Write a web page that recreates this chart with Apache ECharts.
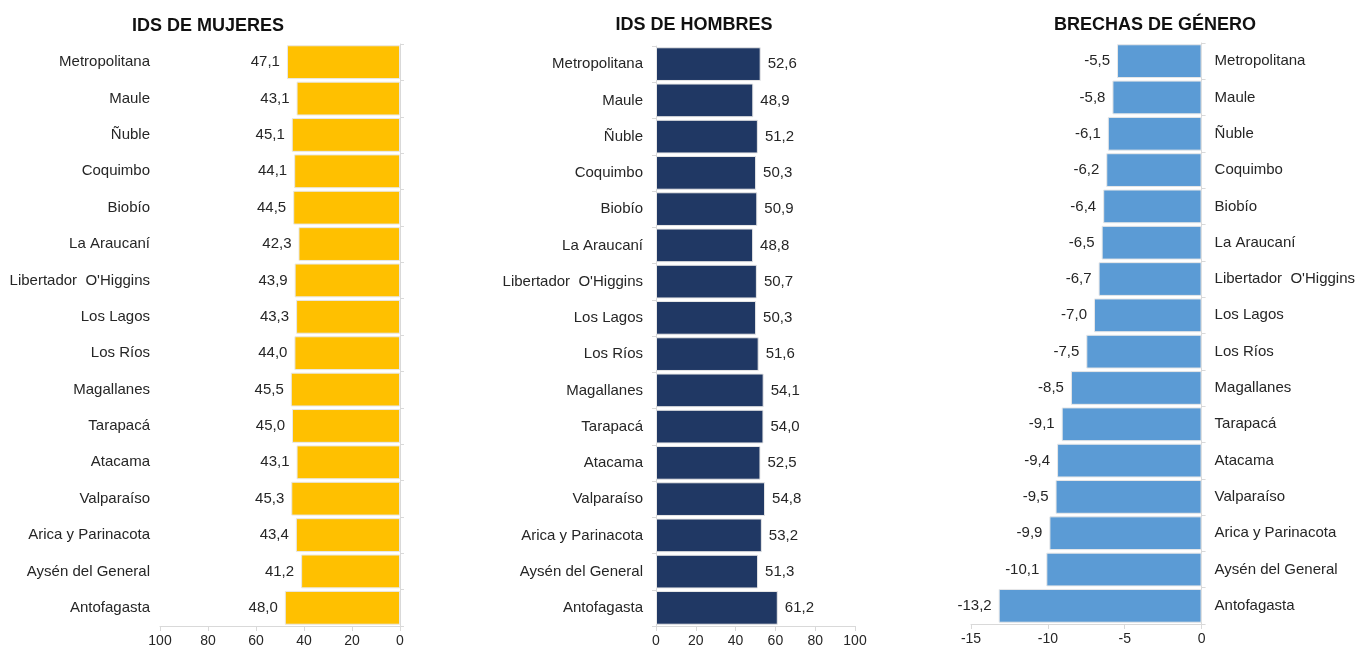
<!DOCTYPE html>
<html><head><meta charset="utf-8">
<script src="https://cdn.jsdelivr.net/npm/echarts@6/dist/echarts.min.js"></script>
<style>html,body{margin:0;padding:0;background:#fff}#c{width:1358px;height:651px}</style>
</head><body><div id="c"></div>
<script>
const categories = ["Metropolitana","Maule","Ñuble","Coquimbo","Biobío","La Araucaní","Libertador  O'Higgins","Los Lagos","Los Ríos","Magallanes","Tarapacá","Atacama","Valparaíso","Arica y Parinacota","Aysén del General","Antofagasta"];
const mujeres = [47.1,43.1,45.1,44.1,44.5,42.3,43.9,43.3,44.0,45.5,45.0,43.1,45.3,43.4,41.2,48.0];
const hombres = [52.6,48.9,51.2,50.3,50.9,48.8,50.7,50.3,51.6,54.1,54.0,52.5,54.8,53.2,51.3,61.2];
const brechas = [-5.5,-5.8,-6.1,-6.2,-6.4,-6.5,-6.7,-7.0,-7.5,-8.5,-9.1,-9.4,-9.5,-9.9,-10.1,-13.2];
const titles = ["IDS DE MUJERES","IDS DE HOMBRES","BRECHAS DE GÉNERO"];

const FONT = "Liberation Sans, Arial, sans-serif";
const TXT = "#262626";
const AX = "#d9d9d9";
const fmt = v => v.toFixed(1).replace('.', ',');

const chart = echarts.init(document.getElementById('c'));
const grids = [
  {left:160, width:240, top:44, height:582},
  {left:656, width:199, top:46, height:580},
  {left:971, width:232, top:43, height:581}
];
function xAxisDef(i, min, max, interval, inverse){
  return {type:'value', gridIndex:i, min, max, interval, inverse,
    axisLine:{show:true, lineStyle:{color:AX}}, axisTick:{show:true, length:5, lineStyle:{color:AX}},
    splitLine:{show:false},
    axisLabel:{color:TXT, fontFamily:FONT, fontSize:14, margin:8, formatter: v => String(v)}};
}
function yLabelAxis(i, pos, margin){
  return {type:'category', gridIndex:i, data:categories, inverse:true, position:pos,
    axisLine:{show:false}, axisTick:{show:false},
    axisLabel:{color:TXT, fontFamily:FONT, fontSize:15, margin}};
}
function yLineAxis(i, pos){
  return {type:'category', gridIndex:i, data:categories, inverse:true, position:pos,
    axisLine:{show:true, lineStyle:{color:AX}}, axisTick:{show:true, length:4, lineStyle:{color:AX}},
    axisLabel:{show:false}};
}
function barSeries(i, data, color, labelPos){
  return {type:'bar', xAxisIndex:i, yAxisIndex:i*2, data, barWidth:'93%',
    itemStyle:{color, borderColor:'#e8e8e8', borderWidth:1},
    label:{show:true, position:labelPos, distance:7, color:TXT, fontFamily:FONT, fontSize:15,
      formatter: p => fmt(p.value)}};
}
const titleStyle = {fontFamily:FONT, fontSize:18, fontWeight:'bold', color:'#111'};
chart.setOption({
  animation:false,
  title:[
    {text:titles[0], left:203, top:12, textAlign:'center', textStyle:titleStyle},
    {text:titles[1], left:689, top:11, textAlign:'center', textStyle:titleStyle},
    {text:titles[2], left:1150, top:11, textAlign:'center', textStyle:titleStyle}
  ],
  grid:grids,
  xAxis:[xAxisDef(0,0,100,20,true), xAxisDef(1,0,100,20,false), xAxisDef(2,-15,0,5,false)],
  yAxis:[
    yLabelAxis(0,'left',10), yLineAxis(0,'right'),
    yLabelAxis(1,'left',13), yLineAxis(1,'left'),
    yLabelAxis(2,'right',13), yLineAxis(2,'right')
  ],
  series:[
    barSeries(0, mujeres, '#FFC000', 'left'),
    barSeries(1, hombres, '#203864', 'right'),
    barSeries(2, brechas, '#5B9BD5', 'left')
  ]
});
</script></body></html>
